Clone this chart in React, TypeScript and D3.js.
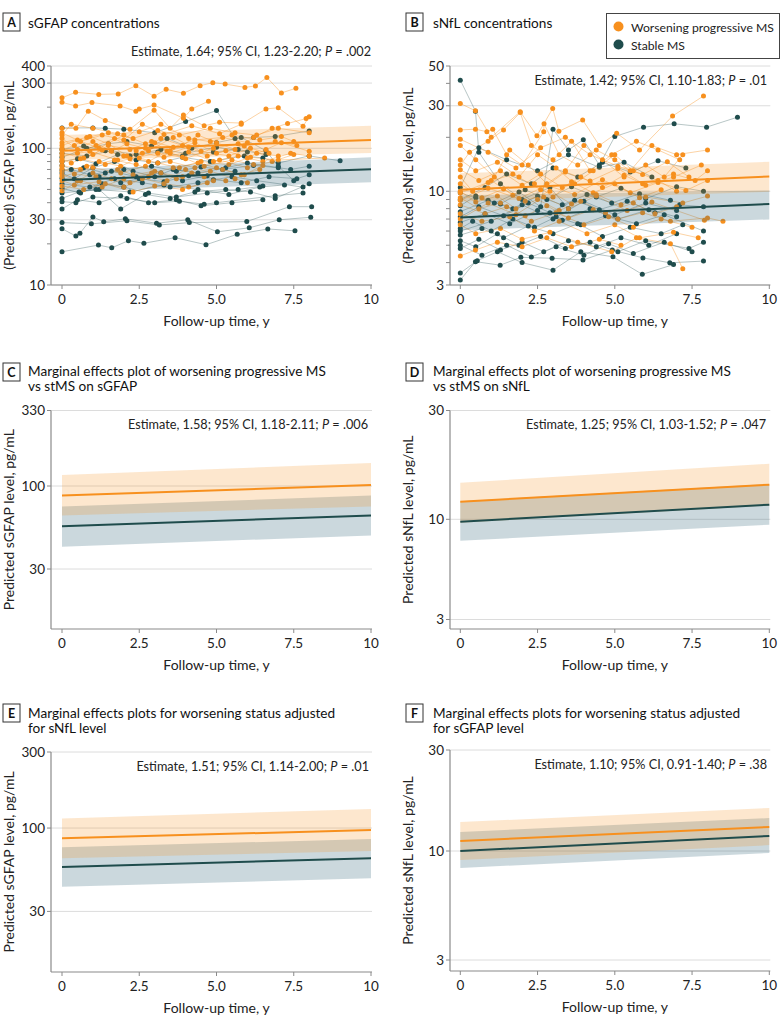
import React from 'react';
import * as d3 from 'd3';

type Pt = [number, number];

const ORANGE = '#F7901E';
const TEAL = '#1F4C4C';
const FONT = 'Lato, "Open Sans", sans-serif';

const xTickValues = [0, 2.5, 5, 7.5, 10];
const xTickLabels = ['0', '2.5', '5.0', '7.5', '10'];

// ---------- Panel A: sGFAP trajectories ----------
const aWorsening: Pt[][] = [
  [[0,234],[0.44,257],[1.19,248],[1.82,250],[2.39,287],[2.98,240],[3.37,270],[3.93,253],[4.47,287],[4.88,302],[5.28,295],[5.92,279],[6.26,286],[6.63,330],[7.1,254],[7.57,275]],
  [[0,217],[0.44,204],[0.97,216],[1.88,204],[2.39,187],[2.5,194],[2.98,207],[3.93,166],[4.2,194],[4.74,221]],
  [[0,140],[0.45,140],[0.85,187],[1.4,160],[2.2,138],[2.98,190],[3.5,140],[3.93,175],[4.6,146],[5.1,155],[5.8,153]],
  [[0,130],[0.6,112],[1.3,125],[2.0,115],[2.6,150],[3.3,126],[4.2,146],[5.1,128],[5.8,150],[6.6,194],[7.0,198],[7.8,145],[8.0,170]],
  [[0,118],[0.5,98],[1.0,112],[1.6,95],[2.1,108],[2.7,100],[3.2,118],[3.9,105],[4.4,125],[5.0,110],[5.6,98],[6.2,120],[6.8,140],[7.3,152],[7.9,165]],
  [[0,100],[0.5,92],[1.1,105],[1.7,118],[2.4,96],[3.0,110],[3.5,92],[4.1,102],[4.7,88],[5.3,96],[6.0,85],[6.6,98],[7.1,110],[8.0,95]],
  [[0,92],[0.7,85],[1.3,97],[2.0,88],[2.8,80],[3.4,95],[4.0,84],[4.9,100],[5.7,108],[6.3,92],[7.0,88]],
  [[0,83],[0.3,78],[1.0,90],[1.5,105],[2.2,98],[2.9,112],[3.6,102],[4.3,115],[5.2,120],[6.0,110]],
  [[0,75],[0.6,70],[1.2,80],[1.9,74],[2.5,85],[3.1,78],[3.8,72],[4.5,80],[5.4,76],[6.1,86],[7.0,82],[8.5,85]],
  [[0,71.5],[0.4,65],[1.1,62],[1.8,70],[2.3,64],[3.0,68],[3.7,60],[4.2,66],[5.0,72],[5.8,64],[6.4,70]],
  [[0,64],[0.5,58],[1.0,66],[1.6,60],[2.2,56],[2.8,62],[3.4,58],[4.0,70],[4.6,62],[5.3,58]],
  [[0,58],[0.4,54],[1.2,57],[2.0,52],[2.6,60],[3.3,55],[4.1,52],[4.9,58]],
  [[0,53],[0.7,50],[1.4,55],[2.3,48],[3.0,53],[3.9,50],[4.7,56]],
  [[0,49],[0.6,58],[1.3,52],[2.0,60],[2.9,66],[3.6,72],[4.4,78],[5.2,70],[5.9,64],[6.5,75]],
  [[0,110],[0.8,120],[1.5,130],[2.3,118],[3.1,135],[3.8,125],[4.8,140],[5.6,130],[6.3,125],[7.0,140],[8.0,130]],
  [[0,125],[0.3,150],[1.0,140],[1.8,128],[2.5,132],[3.2,150],[4.1,118],[4.8,112],[5.5,125],[6.4,115],[7.1,122],[7.5,112]],
  [[0,88],[0.9,95],[1.8,82],[2.6,92],[3.3,86],[4.1,94],[4.9,80],[5.7,88],[6.5,80],[7.4,92],[8.0,88]],
  [[0,105],[0.5,115],[1.2,100],[2.0,125],[2.7,108],[3.5,96],[4.3,110],[5.0,92],[5.9,104],[6.9,112],[7.6,105]],
  [[0,80],[0.6,84],[1.4,76],[2.2,84],[3.1,92],[3.9,86],[4.6,74],[5.5,82],[6.2,76]],
  [[0,68],[0.8,74],[1.7,82],[2.4,76],[3.2,66],[3.9,62],[4.8,68],[5.6,60],[6.0,56]],
  [[0,97],[0.4,105],[0.9,122],[1.5,108],[2.1,88],[2.8,96],[3.6,120],[4.5,95],[5.4,88],[6.1,100],[6.7,92]],
  [[0,62],[1.0,72],[1.9,66],[2.7,74],[3.5,80],[4.3,72],[5.1,82],[6.0,72],[6.8,80],[7.5,90]],
];

const aStable: Pt[][] = [
  [[0,17.5],[1.18,19.6],[1.61,18.7],[2.15,21.1],[2.65,20.2],[3.66,22.2],[4.66,19.7],[5.67,23.5],[6.66,25.7],[7.54,24.9]],
  [[0,25.8],[0.45,22.8],[0.58,23.9],[1.0,31.5],[1.35,29],[2.05,30.5],[3.06,28.3],[4.07,30],[5.03,24.5],[6.06,26.2],[7.03,30],[8.05,31.3]],
  [[0,28.6],[0.95,28],[2.1,29.5],[3.15,27.5],[4.12,28.6],[5.98,29.1],[7.36,37.4],[8.08,37.4]],
  [[0,40.7],[0.45,40],[1.0,44],[2.1,43],[3.0,40],[3.8,41],[4.6,39],[5.0,40],[6.9,45],[7.8,47]],
  [[0,43],[0.55,48],[1.2,50],[1.9,36],[2.7,46],[3.5,43],[4.3,48],[5.3,50],[6.1,48],[6.9,43],[8.0,55]],
  [[0,51],[0.6,47],[1.3,55],[2.0,52],[2.8,47],[3.7,44],[4.7,47],[5.7,50],[6.5,53]],
  [[0,60.4],[0.5,58],[1.2,62],[1.9,56],[2.5,60],[3.3,57],[4.1,63],[4.9,59],[5.8,56],[6.7,62],[7.6,60],[8.0,64]],
  [[0,69.3],[0.7,72],[1.4,66],[2.0,70],[2.9,74],[3.7,68],[4.5,73],[5.2,70],[6.2,75],[7.0,72]],
  [[0,80],[0.5,84],[1.1,77],[1.8,90],[2.4,82],[3.1,78],[3.9,86],[4.8,80],[5.9,88],[6.5,85],[7.0,78],[8.0,88],[9.0,81]],
  [[0,92],[0.8,88],[1.6,96],[2.4,90],[3.2,98],[4.0,92],[5.0,102],[6.0,94]],
  [[0,141],[1.0,141],[1.4,140],[2.0,138],[3.0,130],[4.0,157],[5.0,189],[5.6,118],[6.2,120],[6.9,122],[8.0,134]],
  [[0,66],[0.4,60],[1.0,72],[1.7,80],[2.3,68],[3.0,62],[3.6,70],[4.4,66],[5.3,72],[6.0,78],[7.4,70],[8.0,74]],
  [[0,86],[0.8,100],[1.5,108],[2.1,112],[2.9,104],[3.4,118],[4.2,100],[5.0,110],[5.8,120],[6.6,96],[7.0,74],[7.5,58]],
  [[0,55],[0.9,52],[1.7,60],[2.6,56],[3.5,52],[4.4,56],[5.5,62],[6.3,58],[7.8,52]],
  [[0,75],[0.3,70],[0.9,64],[1.6,68],[2.4,62],[3.2,66],[3.9,58],[4.7,63],[5.6,68]],
  [[0,47],[1.1,50],[2.2,48],[3.3,54],[4.4,50],[5.4,46],[6.4,52],[7.2,54]],
  [[0,36],[0.5,42],[1.2,40],[1.9,45],[2.8,40],[3.7,42],[4.5,38],[5.5,40],[6.5,42]],
  [[0,98],[0.7,104],[1.4,96],[2.2,88],[3.1,94],[3.9,88],[4.9,94],[5.7,98],[6.6,90]],
];

// ---------- Panel B: sNfL trajectories ----------
const bWorsening: Pt[][] = [
  [[0,30.9],[0.49,28.1],[1.0,20],[1.94,27.8],[2.48,20.4],[2.99,29.0],[3.19,21.6],[3.96,25.0],[4.5,18],[5.06,21.1],[5.8,17],[6.87,26.3],[7.87,34.0]],
  [[0,22],[0.49,22.2],[0.86,21.5],[1.05,22.2],[1.5,16],[2.0,14],[2.7,21.5],[2.71,23.8],[3.2,16],[3.8,14],[4.4,17],[5.0,15],[5.5,13],[6.2,18],[7.0,16],[8.0,17]],
  [[0,18],[0.5,15],[1.1,12],[1.6,17],[2.2,14],[2.8,11],[3.4,13],[4.0,18],[4.6,15],[5.3,12],[6.0,14],[6.6,12],[7.2,16]],
  [[0,15],[0.5,13],[1.2,14.5],[1.9,12],[2.5,16],[3.1,13.5],[3.7,11],[4.3,13],[5.0,16],[5.6,13],[6.4,11.5],[7.0,10]],
  [[0,13.2],[0.6,11.5],[1.3,13],[2.0,10.8],[2.6,12.5],[3.3,10.5],[3.9,12],[4.6,10.5],[5.3,12.3],[5.9,11],[6.9,12.5],[7.6,11.5],[8.0,13]],
  [[0,12],[0.4,10],[1.0,11.5],[1.7,9.5],[2.4,11],[3.0,9.3],[3.6,11.3],[4.3,9.8],[5.0,11],[5.8,9.2],[6.5,10.2]],
  [[0,11],[0.7,9.2],[1.4,10.3],[2.1,8.8],[2.9,10],[3.6,8.5],[4.4,9.6],[5.2,8.4],[6.0,9.3],[7.2,8.6],[8.0,9.4]],
  [[0,10],[0.5,8.7],[1.2,9.4],[1.8,8.0],[2.5,9.0],[3.2,7.8],[3.9,8.8],[4.7,7.6],[5.6,8.6],[6.3,7.5],[7.0,8.2]],
  [[0,9.2],[0.6,8.0],[1.3,8.6],[2.1,7.3],[2.8,8.3],[3.5,7.1],[4.3,7.9],[5.1,7.0],[5.9,7.6],[6.8,6.8],[8.0,7.1],[8.5,6.8]],
  [[0,8.4],[0.8,7.5],[1.5,8.2],[2.3,6.8],[3.1,7.6],[4.0,6.5],[4.8,7.2],[5.6,6.3],[6.5,7.0],[7.5,6.3]],
  [[0,7.5],[0.7,6.8],[1.6,7.2],[2.4,6.0],[3.2,6.8],[4.1,5.8],[5.0,6.5],[5.8,5.5],[6.9,5.9],[7.7,5.5]],
  [[0,6.5],[0.5,5.8],[1.3,6.2],[2.0,5.4],[2.9,5.9],[3.8,5.2],[4.9,4.6],[5.7,5.5],[6.8,5.1],[7.2,3.7]],
  [[0,4.36],[0.49,4.7],[1.2,5.2],[2.0,4.9],[2.8,5.5],[3.6,4.9],[4.5,5.4],[5.2,5.0]],
  [[0,14],[0.3,16.5],[0.9,19],[1.4,22],[1.94,27.5],[2.3,18],[3.0,15],[3.6,19],[4.2,13],[4.9,16],[5.7,19],[6.4,17],[7.1,15]],
  [[0,19.5],[0.9,16.5],[1.8,13.5],[2.6,17.5],[3.4,20],[4.2,16],[5.1,13.8],[5.9,12.4],[6.7,14.6],[7.4,12]],
  [[0,9.8],[0.9,11.2],[1.7,12.5],[2.6,10.2],[3.4,12.8],[4.2,11.4],[5.1,13.4],[6.0,10.8],[6.9,12],[7.8,14]],
  [[0,8.9],[0.9,10.4],[1.9,9.1],[2.8,10.8],[3.7,9.6],[4.6,11.6],[5.5,9.8],[6.4,11.2],[7.3,10.1],[8.0,11.5]],
  [[0,7.0],[0.9,8.6],[1.8,7.4],[2.7,9.3],[3.5,8.0],[4.4,9.4],[5.4,7.8],[6.2,8.7],[7.9,6.9]],
];

const bStable: Pt[][] = [
  [[0,41.7],[0.49,28],[0.6,16.5],[1.3,11],[2.0,9],[2.9,10.5],[3.5,8]],
  [[0,9.8],[0.5,9.2],[1.1,8.6],[1.9,9.9],[2.6,8.2],[3.0,22.2],[3.5,17],[3.98,19.4],[4.5,14],[5.0,20.2],[5.93,22.8],[6.92,23.8],[7.97,22.8],[8.97,25.9]],
  [[0,3.2],[0.49,4.05],[1.29,3.87],[1.96,4.28],[2.97,4.23],[3.97,4.14],[4.92,4.7],[5.91,4.25],[6.78,3.99],[7.87,4.08]],
  [[0,3.5],[0.55,4.1],[1.2,4.6],[2.0,4.0],[3.0,3.63],[3.9,4.6],[4.94,4.31],[5.89,3.44],[6.9,3.9]],
  [[0,4.8],[0.6,5.4],[1.3,4.7],[2.0,5.2],[2.7,4.6],[3.5,5.3],[4.4,4.9],[5.2,5.5],[6.1,5.0],[7.0,5.8]],
  [[0,5.3],[0.5,4.9],[1.2,5.8],[1.9,5.0],[2.6,5.6],[3.4,4.8],[4.2,5.2],[5.1,4.6],[6.0,5.3],[7.4,4.8],[7.87,5.2]],
  [[0,5.7],[0.7,6.2],[1.4,5.5],[2.2,6.4],[3.0,5.8],[3.8,6.6],[4.6,5.6],[5.5,6.3],[6.5,5.8],[7.2,6.5]],
  [[0,6.2],[0.4,6.8],[1.0,6.0],[1.7,7.0],[2.4,6.3],[3.1,7.2],[3.9,6.5],[4.7,7.3],[5.7,6.6],[6.6,7.4],[7.87,6.0]],
  [[0,6.7],[0.8,7.5],[1.6,6.6],[2.5,7.8],[3.3,6.9],[4.2,8.0],[5.1,7.0],[6.1,7.9],[7.0,7.2]],
  [[0,7.2],[0.6,8.2],[1.4,7.3],[2.2,8.6],[2.9,7.6],[3.7,8.9],[4.5,7.9],[5.4,8.8],[6.3,7.6],[7.1,8.4],[7.87,8.2]],
  [[0,7.7],[0.9,8.9],[1.7,8.0],[2.5,9.4],[3.3,8.4],[4.1,9.6],[4.9,8.6],[5.8,9.7],[6.8,8.9]],
  [[0,8.3],[0.5,9.4],[1.3,8.5],[2.1,10.2],[2.8,9.0],[3.6,10.6],[4.4,9.3],[5.2,10.4],[6.0,9.1],[7.0,10.6],[7.87,10.0]],
  [[0,9.0],[0.8,10.5],[1.5,12.5],[2.3,11.0],[3.0,13.5],[3.8,12.0],[4.6,14.5],[5.5,12.8],[6.4,14.8],[7.3,13.5]],
  [[0,5.0],[0.7,4.4],[1.5,5.0],[2.3,4.3],[3.1,4.9],[4.0,4.4],[4.8,5.1],[5.6,4.5],[6.6,5.2],[7.5,4.6]],
  [[0,6.0],[1.0,6.8],[2.0,8.4],[3.0,7.0],[4.0,8.8],[5.0,7.4],[6.0,8.6],[7.0,7.8]],
  [[0,10.5],[0.6,17.5],[1.5,15],[2.5,13],[3.5,16],[4.5,13.6],[5.3,14.5],[6.2,12]],
];

// ---------- Model fits (values at follow-up 0 and 10 y) ----------
const fitTimes = [0, 10];

const aFitWorsening = [96, 115];
const aFitWorseningLo = [82, 92.4];
const aFitWorseningHi = [125, 146];
const aFitStable = [58.6, 70.2];
const aFitStableLo = [48.1, 56.4];
const aFitStableHi = [69.3, 85.9];

const bFitWorsening = [10.2, 12.1];
const bFitWorseningLo = [8.76, 9.94];
const bFitWorseningHi = [12.6, 14.6];
const bFitStable = [7.15, 8.5];
const bFitStableLo = [6.06, 6.97];
const bFitStableHi = [9.5, 10.1];

const cFitWorsening = [87, 101.6];
const cFitWorseningLo = [65.3, 74.3];
const cFitWorseningHi = [119, 144];
const cFitStable = [55.8, 65.3];
const cFitStableLo = [41.5, 48.8];
const cFitStableHi = [74.3, 87];

const dFitWorsening = [11.94, 14.18];
const dFitWorseningLo = [9.6, 11.5];
const dFitWorseningHi = [14.47, 17.53];
const dFitStable = [9.72, 11.59];
const dFitStableLo = [7.73, 9.37];
const dFitStableHi = [12.0, 14.3];

const eFitWorsening = [86.2, 97.2];
const eFitWorseningLo = [64.6, 71.8];
const eFitWorseningHi = [115, 131.7];
const eFitStable = [57, 64.6];
const eFitStableLo = [42.9, 48.4];
const eFitStableHi = [75.7, 85.4];

const fFitWorsening = [11.15, 12.98];
const fFitWorseningLo = [9.05, 10.66];
const fFitWorseningHi = [13.7, 15.97];
const fFitStable = [10, 11.77];
const fFitStableLo = [8.29, 9.78];
const fFitStableHi = [12.3, 14.3];

// ---------- Axis ticks ----------
const aYLabels = [400, 300, 100, 30, 10];
const aYMinor = [200, 90, 80, 70, 60, 50, 40, 20];
const bYLabels = [50, 30, 10, 3];
const bYMinor = [40, 20, 9, 8, 7, 6, 5, 4];
const cYLabels = [330, 100, 30];
const dYLabels = [30, 10, 3];
const eYLabels = [300, 100, 30];
const fYLabels = [30, 10, 3];

type Fit = { wp: number[]; wpLo: number[]; wpHi: number[]; st: number[]; stLo: number[]; stHi: number[] };

interface PanelProps {
  letter: string;
  boxX: number;
  boxY: number;
  titleX: number;
  titleY: number;
  titleLines: string[];
  axisX: number;
  x0: number;
  x1: number;
  yTop: number;
  yBottom: number;
  yScale: d3.ScaleLogarithmic<number, number>;
  yLabels: number[];
  yMinor?: number[];
  yTitle: string;
  est: [string, string];
  estX: number;
  estY: number;
  fit: Fit;
  wp?: Pt[][];
  st?: Pt[][];
}

function Panel(p: PanelProps) {
  const x = d3.scaleLinear().domain([0, 10]).range([p.x0, p.x1]);
  const y = p.yScale;
  const plotRight = p.x1 + 1;
  const line = d3.line<Pt>().x((d) => x(d[0])).y((d) => y(d[1]));
  const band = (lo: number[], hi: number[]) =>
    d3.area<number>().x((t) => x(t)).y0((_, i) => y(lo[i])).y1((_, i) => y(hi[i]))(fitTimes) || '';
  const fitLine = (v: number[]) => d3.line<number>().x((t) => x(t)).y((_, i) => y(v[i]))(fitTimes) || '';
  const yMid = (p.yTop + p.yBottom) / 2;
  return (
    <g>
      <rect x={p.boxX} y={p.boxY} width={17} height={18} fill="none" stroke="#333" strokeWidth={1} />
      <text x={p.boxX + 8.5} y={p.boxY + 13.5} textAnchor="middle" fontWeight="bold" fontSize={12.5} fill="#111">{p.letter}</text>
      {p.titleLines.map((t, i) => (
        <text key={i} x={p.titleX} y={p.titleY + i * 15} fontSize={13.6} fill="#111">{t}</text>
      ))}
      {p.yLabels.map((v) => (
        <line key={'g' + v} x1={p.axisX} x2={plotRight} y1={y(v)} y2={y(v)} stroke="#dcdcdc" strokeWidth={1} />
      ))}
      {p.st && p.st.map((tr, i) => (
        <path key={'sl' + i} d={line(tr) || ''} fill="none" stroke={TEAL} strokeOpacity={0.4} strokeWidth={0.8} />
      ))}
      {p.wp && p.wp.map((tr, i) => (
        <path key={'wl' + i} d={line(tr) || ''} fill="none" stroke={ORANGE} strokeOpacity={0.5} strokeWidth={0.8} />
      ))}
      {p.st && p.st.map((tr, i) => tr.map((d, j) => (
        <circle key={'sp' + i + '-' + j} cx={x(d[0])} cy={y(d[1])} r={2.5} fill={TEAL} />
      )))}
      {p.wp && p.wp.map((tr, i) => tr.map((d, j) => (
        <circle key={'wp' + i + '-' + j} cx={x(d[0])} cy={y(d[1])} r={2.5} fill={ORANGE} />
      )))}
      <path d={band(p.fit.stLo, p.fit.stHi)} fill="#2E6478" fillOpacity={0.25} />
      <path d={band(p.fit.wpLo, p.fit.wpHi)} fill={ORANGE} fillOpacity={0.22} />
      <path d={fitLine(p.fit.st)} fill="none" stroke={TEAL} strokeWidth={2} />
      <path d={fitLine(p.fit.wp)} fill="none" stroke={ORANGE} strokeWidth={2} />
      <line x1={p.axisX} x2={p.axisX} y1={p.yTop} y2={p.yBottom} stroke="#8a8a8a" strokeWidth={1.2} />
      {p.yLabels.map((v) => (
        <g key={'yl' + v}>
          <line x1={p.axisX - 4} x2={p.axisX} y1={y(v)} y2={y(v)} stroke="#8a8a8a" />
          <text x={p.axisX - 6} y={y(v) + 4.5} textAnchor="end" fontSize={13.5} fill="#222">{v}</text>
        </g>
      ))}
      {(p.yMinor || []).map((v) => (
        <line key={'ym' + v} x1={p.axisX - 4} x2={p.axisX} y1={y(v)} y2={y(v)} stroke="#8a8a8a" />
      ))}
      <line x1={p.axisX} x2={plotRight} y1={p.yBottom} y2={p.yBottom} stroke="#8a8a8a" strokeWidth={1.2} />
      {xTickValues.map((v, i) => (
        <g key={'xt' + v}>
          <line x1={x(v)} x2={x(v)} y1={p.yBottom} y2={p.yBottom + 4} stroke="#8a8a8a" />
          <text x={x(v)} y={p.yBottom + 19} textAnchor="middle" fontSize={13.5} fill="#222">{xTickLabels[i]}</text>
        </g>
      ))}
      <text x={(p.x0 + p.x1) / 2} y={p.yBottom + 41} textAnchor="middle" fontSize={14} fill="#222">Follow-up time, y</text>
      <text transform={`translate(${p.axisX - 37},${yMid}) rotate(-90)`} textAnchor="middle" fontSize={14} fill="#222">{p.yTitle}</text>
      <text x={p.estX} y={p.estY} textAnchor="end" fontSize={12.7} fill="#222">
        {p.est[0]}<tspan fontStyle="italic">P</tspan>{p.est[1]}
      </text>
    </g>
  );
}

export default function App() {
  const aY = d3.scaleLog().domain([10, 400]).range([285, 66]);
  const bY = d3.scaleLog().domain([3, 50]).range([285, 66]);
  const cY = d3.scaleLog().domain([30, 100, 330]).range([569, 486, 410.5]);
  const dY = d3.scaleLog().domain([3, 10, 30]).range([619.5, 519.3, 410.5]);
  const eY = d3.scaleLog().domain([12.5, 300]).range([972, 752]);
  const fY = d3.scaleLog().domain([3, 10, 30]).range([960, 851, 750]);

  const mk = (wp: number[], wpLo: number[], wpHi: number[], st: number[], stLo: number[], stHi: number[]): Fit => ({ wp, wpLo, wpHi, st, stLo, stHi });

  const leftCol = { axisX: 51, x0: 62, x1: 371, boxX: 3, titleX: 28 };
  const rightCol = { axisX: 450, x0: 460.3, x1: 769.3, boxX: 406, titleX: 433 };

  return (
    <svg width={783} height={1028} style={{ display: 'block', position: 'absolute', left: 0, top: 0, fontFamily: FONT }}>
      <rect width={783} height={1028} fill="#fff" />
      <Panel {...leftCol} letter="A" boxY={13} titleY={28} titleLines={['sGFAP concentrations']}
        yTop={66} yBottom={285} yScale={aY} yLabels={aYLabels} yMinor={aYMinor}
        yTitle="(Predicted) sGFAP level, pg/mL" est={['Estimate, 1.64; 95% CI, 1.23-2.20; ', ' = .002']} estX={371} estY={56}
        fit={mk(aFitWorsening, aFitWorseningLo, aFitWorseningHi, aFitStable, aFitStableLo, aFitStableHi)}
        wp={aWorsening} st={aStable} />
      <Panel {...rightCol} letter="B" boxY={13} titleY={28} titleLines={['sNfL concentrations']}
        yTop={66} yBottom={285} yScale={bY} yLabels={bYLabels} yMinor={bYMinor}
        yTitle="(Predicted) sNfL level, pg/mL" est={['Estimate, 1.42; 95% CI, 1.10-1.83; ', ' = .01']} estX={767} estY={85}
        fit={mk(bFitWorsening, bFitWorseningLo, bFitWorseningHi, bFitStable, bFitStableLo, bFitStableHi)}
        wp={bWorsening} st={bStable} />
      <Panel {...leftCol} letter="C" boxY={363} titleY={376} titleLines={['Marginal effects plot of worsening progressive MS', 'vs stMS on sGFAP']}
        yTop={410.5} yBottom={629} yScale={cY} yLabels={cYLabels}
        yTitle="Predicted sGFAP level, pg/mL" est={['Estimate, 1.58; 95% CI, 1.18-2.11; ', ' = .006']} estX={368} estY={429}
        fit={mk(cFitWorsening, cFitWorseningLo, cFitWorseningHi, cFitStable, cFitStableLo, cFitStableHi)} />
      <Panel {...rightCol} letter="D" boxY={363} titleY={376} titleLines={['Marginal effects plot of worsening progressive MS', 'vs stMS on sNfL']}
        yTop={410.5} yBottom={629} yScale={dY} yLabels={dYLabels}
        yTitle="Predicted sNfL level, pg/mL" est={['Estimate, 1.25; 95% CI, 1.03-1.52; ', ' = .047']} estX={766} estY={429}
        fit={mk(dFitWorsening, dFitWorseningLo, dFitWorseningHi, dFitStable, dFitStableLo, dFitStableHi)} />
      <Panel {...leftCol} letter="E" boxY={704} titleY={718} titleLines={['Marginal effects plots for worsening status adjusted', 'for sNfL level']}
        yTop={752} yBottom={972} yScale={eY} yLabels={eYLabels}
        yTitle="Predicted sGFAP level, pg/mL" est={['Estimate, 1.51; 95% CI, 1.14-2.00; ', ' = .01']} estX={369} estY={771}
        fit={mk(eFitWorsening, eFitWorseningLo, eFitWorseningHi, eFitStable, eFitStableLo, eFitStableHi)} />
      <Panel {...rightCol} letter="F" boxY={704} titleY={718} titleLines={['Marginal effects plots for worsening status adjusted', 'for sGFAP level']}
        yTop={750} yBottom={971} yScale={fY} yLabels={fYLabels}
        yTitle="Predicted sNfL level, pg/mL" est={['Estimate, 1.10; 95% CI, 0.91-1.40; ', ' = .38']} estX={767} estY={769}
        fit={mk(fFitWorsening, fFitWorseningLo, fFitWorseningHi, fFitStable, fFitStableLo, fFitStableHi)} />
      <rect x={606.5} y={13.5} width={173} height={45} fill="#fff" stroke="#444" strokeWidth={1} />
      <circle cx={618.5} cy={26.5} r={5} fill={ORANGE} />
      <text x={631} y={31.5} fontSize={12.2} fill="#222">Worsening progressive MS</text>
      <circle cx={618.5} cy={44.5} r={5} fill={TEAL} />
      <text x={631} y={49.5} fontSize={12.2} fill="#222">Stable MS</text>
    </svg>
  );
}
